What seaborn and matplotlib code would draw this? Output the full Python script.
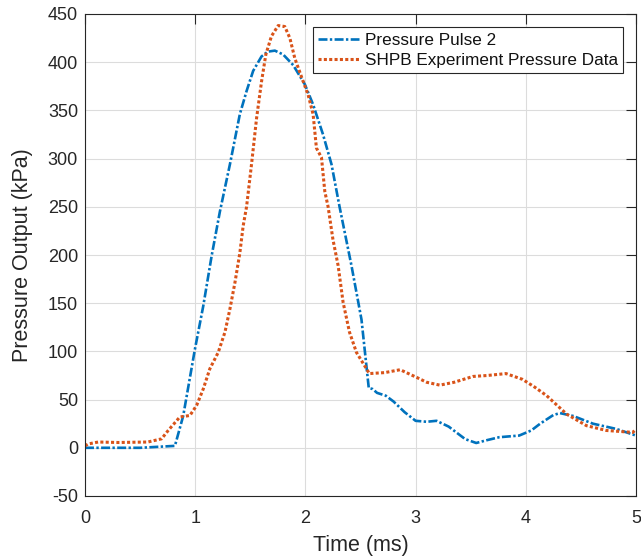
import numpy as np
import pandas as pd
import matplotlib
matplotlib.use("Agg")
import matplotlib.pyplot as plt
import seaborn as sns

# ---- data ----
pulse_t = [0, 0.5, 0.816, 0.891, 0.997, 1.073, 1.149, 1.224, 1.315, 1.405, 1.466,
           1.526, 1.602, 1.66, 1.723, 1.798, 1.889, 1.995, 2.07, 2.16, 2.237,
           2.31, 2.418, 2.509, 2.575, 2.61, 2.65, 2.73, 2.8, 2.9, 3.0, 3.1,
           3.19, 3.3, 3.45, 3.55, 3.65, 3.76, 3.94, 4.05, 4.13, 4.25, 4.31,
           4.43, 4.61, 4.82, 5.0]
pulse_p = [0, 0, 2, 33, 102, 147, 199, 245, 294, 346, 370,
           391, 406, 411, 412, 408, 397, 377, 356, 325, 294,
           250, 189, 133, 62, 61, 57, 54, 48, 37, 28, 27,
           28, 22, 9, 5, 8, 11, 12.7, 18, 25, 34, 36,
           33, 25, 19.6, 12.7]

shpb_t = [0, 0.03, 0.12, 0.3, 0.57, 0.695, 0.755, 0.861, 0.952, 1.013, 1.073,
          1.133, 1.209, 1.27, 1.315, 1.36, 1.405, 1.435, 1.466, 1.511, 1.557,
          1.602, 1.641, 1.692, 1.753, 1.813, 1.859, 1.904, 1.964, 2.025, 2.07,
          2.10, 2.146, 2.176, 2.206, 2.25, 2.297, 2.342, 2.40, 2.463, 2.554,
          2.58, 2.72, 2.86, 3.01, 3.1, 3.22, 3.35, 3.52, 3.65, 3.82, 3.97,
          4.08, 4.19, 4.37, 4.55, 4.73, 4.97, 5.0]
shpb_p = [2, 4, 6, 5.5, 6, 9.3, 18, 32, 33.5, 44, 61,
          82, 99, 120, 144, 171, 202, 230, 250, 294, 342,
          380, 408, 427, 438, 437, 425, 404, 385, 366, 346,
          311, 301, 266, 250, 216, 189, 151, 120, 99, 82,
          77, 78, 81, 73, 68, 65, 68, 74, 75, 77, 71,
          63, 54, 35, 23, 18, 16, 19]

series_names = ["Pressure Pulse 2", "SHPB Experiment Pressure Data"]
x_ticks = [0, 1, 2, 3, 4, 5]
y_ticks = [-50, 0, 50, 100, 150, 200, 250, 300, 350, 400, 450]

sns.set_style("white")
plt.rcParams['font.family'] = ['Liberation Sans', 'DejaVu Sans']
plt.rcParams['axes.unicode_minus'] = False

dark = "#262626"
fig = plt.figure(figsize=(6.41, 5.58), dpi=100)
ax = fig.add_axes([85 / 641, 1 - 496 / 558, (636 - 85) / 641, (496 - 14) / 558])

df1 = pd.DataFrame({"t": pulse_t, "p": pulse_p})
df2 = pd.DataFrame({"t": shpb_t, "p": shpb_p})

sns.lineplot(data=df1, x="t", y="p", ax=ax, color="#0072BD", lw=1.9,
             estimator=None, sort=False, label=series_names[0],
             linestyle=(0, (3.4, 0.9, 0.9, 0.9)))
sns.lineplot(data=df2, x="t", y="p", ax=ax, color="#D95319", lw=2.2,
             estimator=None, sort=False, label=series_names[1],
             linestyle=(0, (1.0, 0.75)))

ax.set_xlim(0, 5)
ax.set_ylim(-50, 450)
ax.set_xticks(x_ticks)
ax.set_yticks(y_ticks)
ax.grid(True, color="#dcdcdc", lw=0.8)
ax.set_axisbelow(True)
for s in ax.spines.values():
    s.set_color(dark)
    s.set_linewidth(0.8)
    s.set_visible(True)
ax.tick_params(direction="in", length=7.5, width=0.8, color=dark,
               top=True, right=True, labelsize=13, labelcolor=dark, pad=5)
ax.tick_params(axis="x", pad=10)
ax.set_xlabel("Time (ms)", fontsize=15.5, color=dark, labelpad=6)
ax.set_ylabel("Pressure Output (kPa)", fontsize=15.5, color=dark, labelpad=11)

leg = ax.legend(loc="upper right", bbox_to_anchor=(0.976, 0.972), borderaxespad=0,
                fontsize=12.3, frameon=True, fancybox=False, framealpha=1,
                edgecolor=dark, handlelength=2.4, handletextpad=0.3,
                borderpad=0.3, labelspacing=0.3)
leg.get_frame().set_linewidth(0.8)
for t in leg.get_texts():
    t.set_color("#111111")

fig.savefig("out.png", dpi=100)
